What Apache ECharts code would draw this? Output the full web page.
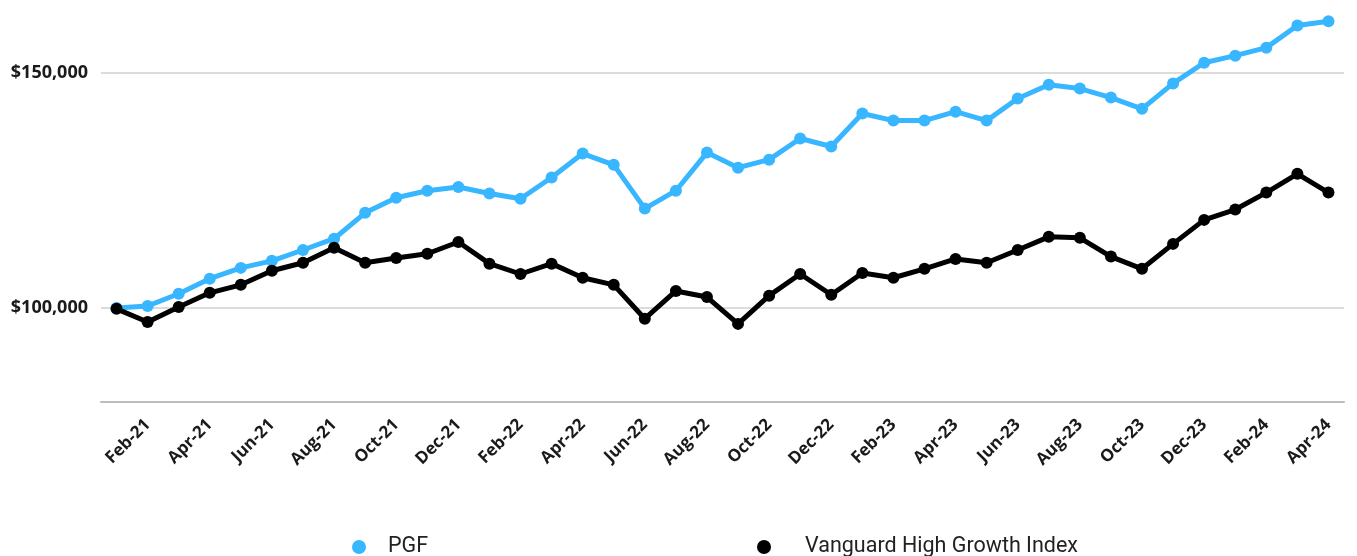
<!DOCTYPE html>
<html>
<head>
<meta charset="utf-8">
<script src="https://cdn.jsdelivr.net/npm/echarts@6/dist/echarts.min.js"></script>
<style>
html,body{margin:0;padding:0;background:#fff;}
#chart{width:1357px;height:556px;}
</style>
</head>
<body>
<div id="chart"></div>
<script>
const categories = ['Jan-21','Feb-21','Mar-21','Apr-21','May-21','Jun-21','Jul-21','Aug-21','Sep-21','Oct-21','Nov-21','Dec-21',
  'Jan-22','Feb-22','Mar-22','Apr-22','May-22','Jun-22','Jul-22','Aug-22','Sep-22','Oct-22','Nov-22','Dec-22',
  'Jan-23','Feb-23','Mar-23','Apr-23','May-23','Jun-23','Jul-23','Aug-23','Sep-23','Oct-23','Nov-23','Dec-23',
  'Jan-24','Feb-24','Mar-24','Apr-24'];
const pgf = [100000,100400,103000,106200,108500,110000,112300,114700,120200,123400,124900,125700,
  124300,123200,127700,132800,130400,121100,124900,133000,129800,131500,136000,134300,
  141300,139800,139800,141700,139800,144500,147400,146600,144700,142300,147700,152100,
  153600,155300,160000,160900];
const vanguard = [99800,97000,100200,103200,104900,107900,109600,112800,109600,110600,111500,114000,
  109400,107200,109400,106400,104900,97700,103600,102300,96600,102600,107200,102800,
  107400,106400,108300,110400,109600,112300,115100,114900,110900,108300,113600,118700,
  120900,124500,128500,124500];
const yTickLabels = [100000, 150000];

const chart = echarts.init(document.getElementById('chart'));
const gridColors = [];
for (let v = 80000; v <= 165000; v += 5000) gridColors.push(yTickLabels.indexOf(v) >= 0 ? '#dcdcdc' : 'rgba(0,0,0,0)');

chart.setOption({
  animation: false,
  backgroundColor: '#fff',
  grid: {left: 101, right: 13, top: 2, bottom: 154, containLabel: false},
  legend: [
    {data: ['PGF'], left: 347, top: 530, itemWidth: 48, itemHeight: 14, icon: 'circle',
     textStyle: {fontFamily: 'Roboto', fontSize: 21.5, lineHeight: 24, color: '#222'}},
    {data: ['Vanguard High Growth Index'], left: 752, top: 530, itemWidth: 72, itemHeight: 14, icon: 'circle',
     textStyle: {fontFamily: 'Roboto', fontSize: 21.5, lineHeight: 24, color: '#222'}}
  ],
  xAxis: {
    type: 'category',
    data: categories,
    boundaryGap: true,
    axisLine: {lineStyle: {color: '#bdbdbd', width: 2}},
    axisTick: {show: false},
    axisLabel: {
      interval: function (i) { return i % 2 === 1; },
      rotate: 45,
      margin: 20,
      fontFamily: 'Open Sans',
      fontWeight: 'bold',
      fontSize: 17,
      color: '#1a1a1a'
    },
    splitLine: {show: false}
  },
  yAxis: {
    type: 'value',
    min: 80000,
    max: 165000,
    interval: 5000,
    axisLine: {show: false},
    axisTick: {show: false},
    axisLabel: {
      margin: 13,
      fontFamily: 'Open Sans',
      fontWeight: 'bold',
      fontSize: 18,
      color: '#1a1a1a',
      formatter: function (v) { return yTickLabels.indexOf(v) >= 0 ? '$' + v.toLocaleString('en-US') : ''; }
    },
    splitLine: {show: true, lineStyle: {color: gridColors, width: 2}}
  },
  series: [
    {name: 'PGF', type: 'line', data: pgf, color: '#38b6ff', symbol: 'circle', symbolSize: 12,
     lineStyle: {width: 5, color: '#38b6ff'}, itemStyle: {color: '#38b6ff'}},
    {name: 'Vanguard High Growth Index', type: 'line', data: vanguard, color: '#000', symbol: 'circle', symbolSize: 12,
     lineStyle: {width: 5, color: '#000'}, itemStyle: {color: '#000'}}
  ]
});
</script>
</body>
</html>
